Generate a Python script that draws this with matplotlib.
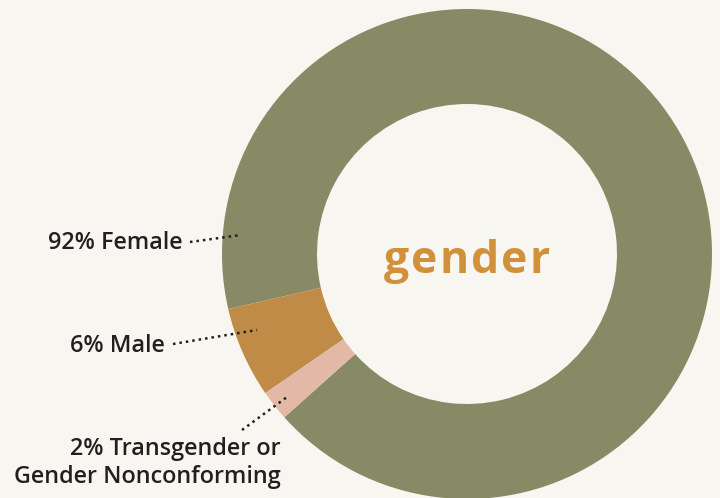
import matplotlib.pyplot as plt

# данные
labels = ["92% Female", "6% Male", "2% Transgender or\nGender Nonconforming"]
shares = [92, 6, 2]
colors = ["#878a65", "#c08b47", "#e4b8a6"]
title = "gender"

bg = "#f7f6f1"
ink = "#231f20"

fig = plt.figure(figsize=(7.2, 4.98), dpi=100, facecolor=bg)
ax = fig.add_axes([0, 0, 1, 1])
ax.set_facecolor(bg)
ax.axis("off")

cx, cy = 467, 498 - 254
wedges, _ = ax.pie(shares, colors=colors, startangle=221.8, counterclock=True,
                   center=(cx, cy), radius=245,
                   wedgeprops=dict(width=95, edgecolor="none"))
ax.set_xlim(0, 720)
ax.set_ylim(0, 498)
ax.set_aspect("equal")

# "gender" с разрядкой: буквы по одной
renderer = fig.canvas.get_renderer()
tfont = dict(fontsize=32, fontweight="bold", color="#d0913a", family="Open Sans")
tracking = 2
chars = []
x = 0
for ch in title:
    t = ax.text(x, 0, ch, ha="left", va="baseline", **tfont)
    w = t.get_window_extent(renderer).width
    chars.append((t, x))
    x += w + tracking
total = x - tracking
x0 = cx - total / 2
for t, dx in chars:
    t.set_x(x0 + dx)
    t.set_y(498 - 273)

font = dict(fontsize=16.8, fontweight="semibold", color=ink, family="Open Sans")
ax.text(183, 498 - 243, labels[0], ha="right", va="center", **font)
ax.text(165, 498 - 346, labels[1], ha="right", va="center", **font)
ax.text(281, 498 - 463, labels[2], ha="right", va="center",
        linespacing=1.25, **font)

# пунктирные выноски
leaders = [((190, 242), (241, 235)),
           ((173, 344), (257, 330)),
           ((242, 430), (287, 397))]
for (x0, y0), (x1, y1) in leaders:
    ax.plot([x0, x1], [498 - y0, 498 - y1], color=ink, lw=1.8,
            linestyle=(0, (1, 1.6)), solid_capstyle="round")

fig.savefig("out.png", dpi=100, facecolor=bg)
